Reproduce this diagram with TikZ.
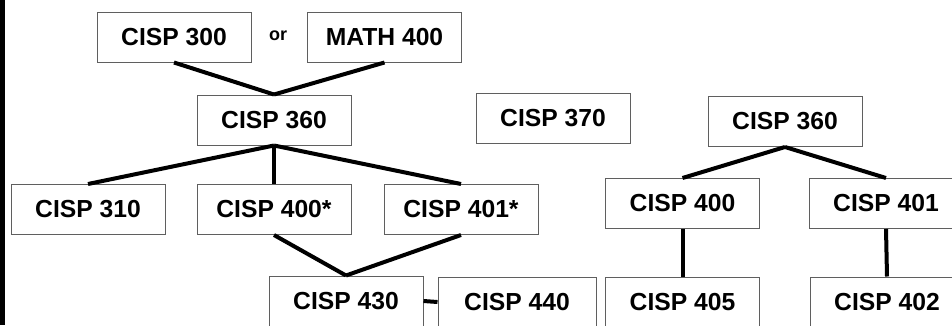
\documentclass[tikz,border=0pt]{standalone}
\usepackage{fontspec}
\setmainfont{Liberation Sans}

\begin{document}
\begin{tikzpicture}[x=0.75pt,y=0.75pt,yscale=-1,xscale=1,
  course/.style={draw={rgb, 255:red, 95; green, 95; blue, 95 },line width=0.75pt,fill=white,
    minimum width=115.5pt,minimum height=37.5pt,inner sep=0pt,
    font=\fontsize{18.5}{20}\selectfont\bfseries},
  prereq/.style={line width=3pt,line cap=butt}]
%set diagram left start at 0, and has height of 325
\useasboundingbox (0,0) rectangle (952,325);
\clip (0,0) rectangle (952,325);

%Shape: Rectangle [left edge bar]
\fill [black] (0,0) rectangle (5,325);

% Left tree
\draw (174,37) node [course] (c300) {CISP 300};
\draw (384.5,37) node [course] (m400) {MATH 400};
\draw (278,36) node [font=\fontsize{13.5}{15}\selectfont\bfseries] (orlbl) {or};
\draw (274,120) node [course] (c360) {CISP 360};
\draw (553,118.5) node [course] (c370) {CISP 370};
\draw (88,209.5) node [course] (c310) {CISP 310};
\draw (274,209.5) node [course] (c400s) {CISP 400*};
\draw (461,209.5) node [course] (c401s) {CISP 401*};
\draw (346,301) node [course] (c430) {CISP 430};
\draw (517,302) node [course,minimum width=118.5pt] (c440) {CISP 440};

% Right tree
\draw (785,121.5) node [course] (r360) {CISP 360};
\draw (682.5,203.5) node [course] (r400) {CISP 400};
\draw (886,203.5) node [course] (r401) {CISP 401};
\draw (682.5,302) node [course] (r405) {CISP 405};
\draw (887,302) node [course] (r402) {CISP 402};

%Straight Lines
\draw [prereq] (c300.south) -- (c360.north);
\draw [prereq] (m400.south) -- (c360.north);
\draw [prereq] (c360.south) -- (c310.north);
\draw [prereq] (c360.south) -- (c400s.north);
\draw [prereq] (c360.south) -- (c401s.north);
\draw [prereq] (c400s.south) -- (c430.north);
\draw [prereq] (c401s.south) -- (c430.north);
\draw [prereq] (c430.east) -- (c440.west);
\draw [prereq] (r360.south) -- (r400.north);
\draw [prereq] (r360.south) -- (r401.north);
\draw [prereq] (r400.south) -- (r405.north);
\draw [prereq] (r401.south) -- (r402.north);

\end{tikzpicture}
\end{document}
